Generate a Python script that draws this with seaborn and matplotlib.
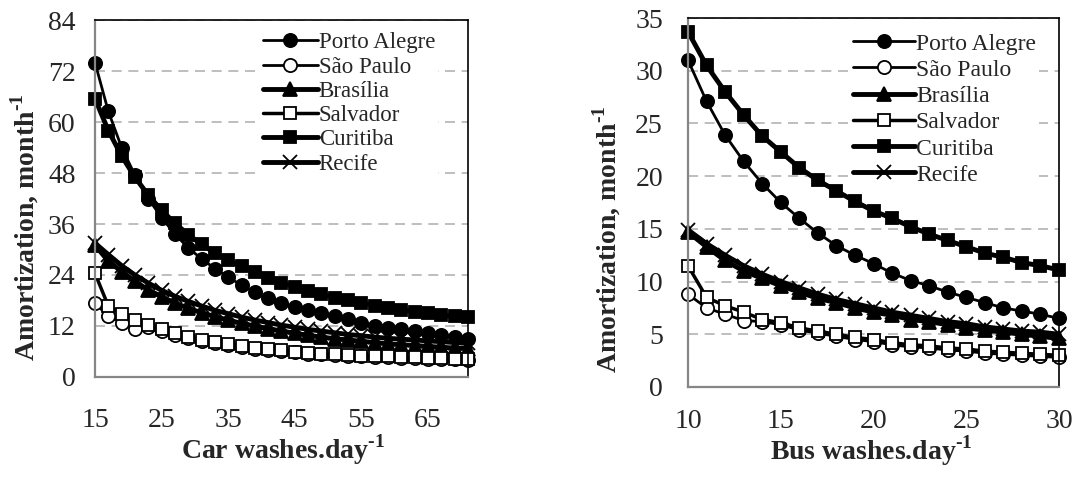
import pandas as pd
import matplotlib
matplotlib.use('Agg')
import matplotlib.pyplot as plt
import seaborn as sns

sns.set_style('white')
plt.rcParams['font.family'] = ['Liberation Serif', 'DejaVu Serif']
plt.rcParams['mathtext.fontset'] = 'custom'
plt.rcParams['mathtext.rm'] = 'Liberation Serif'
plt.rcParams['mathtext.bf'] = 'Liberation Serif:bold'

cities = ['Porto Alegre', 'São Paulo', 'Brasília', 'Salvador', 'Curitiba', 'Recife']

# Car washes (left panel)
car_x = [15, 17, 19, 21, 23, 25, 27, 29, 31, 33, 35, 37, 39, 41, 43,
         45, 47, 49, 51, 53, 55, 57, 59, 61, 63, 65, 67, 69, 71]
car_porto = [74.0, 62.5, 54.0, 47.5, 42.0, 37.5, 33.6, 30.4, 27.8, 25.5, 23.5, 21.6, 20.0, 18.5, 17.3,
             16.4, 15.7, 15.0, 14.3, 13.6, 12.8, 12.1, 11.6, 11.2, 10.8, 10.3, 9.8, 9.4, 9.0]
car_sao = [17.4, 14.3, 12.8, 11.3, 11.7, 10.8, 9.9, 9.2, 8.5, 8.0, 7.5, 7.1, 6.7, 6.4, 6.1,
           5.8, 5.5, 5.3, 5.15, 5.0, 4.85, 4.75, 4.65, 4.55, 4.45, 4.35, 4.25, 4.15, 4.05]
car_brasilia = [31.0, 27.3, 24.8, 22.5, 20.5, 18.9, 17.4, 16.2, 15.1, 14.2, 13.4, 12.6, 12.0, 11.4, 10.8,
                10.3, 9.8, 9.4, 9.0, 8.7, 8.4, 8.1, 7.8, 7.6, 7.4, 7.2, 7.0, 6.8, 6.7]
car_salvador = [24.4, 16.7, 14.9, 13.3, 12.2, 11.2, 10.3, 9.5, 8.8, 8.2, 7.7, 7.3, 6.9, 6.6, 6.3,
                5.9, 5.7, 5.5, 5.35, 5.2, 5.05, 4.95, 4.85, 4.75, 4.65, 4.55, 4.45, 4.35, 4.25]
car_curitiba = [65.5, 58.0, 52.0, 47.0, 42.8, 39.2, 36.2, 33.5, 31.2, 29.2, 27.5, 26.0, 24.6, 23.3, 22.2,
                21.2, 20.3, 19.5, 18.7, 18.0, 17.4, 16.8, 16.3, 15.8, 15.4, 15.0, 14.6, 14.3, 14.0]
car_recife = [31.5, 28.8, 26.2, 24.0, 22.1, 20.4, 19.0, 17.8, 16.7, 15.7, 14.9, 14.1, 13.4, 12.8, 12.2,
              11.7, 11.2, 10.8, 10.4, 10.0, 9.7, 9.4, 9.1, 8.9, 8.7, 8.5, 8.3, 8.1, 7.9]
car_ticks = [15, 25, 35, 45, 55, 65]

# Bus washes (right panel)
bus_x = [10, 11, 12, 13, 14, 15, 16, 17, 18, 19, 20, 21, 22, 23, 24, 25, 26, 27, 28, 29, 30]
bus_porto = [31.0, 27.1, 23.9, 21.4, 19.3, 17.5, 16.0, 14.6, 13.4, 12.5, 11.7,
             10.8, 10.1, 9.6, 9.0, 8.5, 8.0, 7.5, 7.2, 6.9, 6.5]
bus_sao = [8.8, 7.5, 6.9, 6.3, 6.2, 5.9, 5.4, 5.1, 4.8, 4.5, 4.3,
           4.0, 3.8, 3.7, 3.5, 3.4, 3.2, 3.1, 3.0, 2.9, 2.8]
bus_brasilia = [14.7, 13.3, 12.0, 11.0, 10.3, 9.6, 9.0, 8.4, 8.0, 7.5, 7.1,
                6.8, 6.4, 6.2, 5.9, 5.6, 5.4, 5.2, 5.0, 4.8, 4.6]
bus_salvador = [11.5, 8.5, 7.7, 7.1, 6.4, 6.1, 5.6, 5.3, 5.0, 4.7, 4.5,
                4.2, 4.0, 3.9, 3.7, 3.6, 3.4, 3.3, 3.2, 3.1, 3.0]
bus_curitiba = [33.7, 30.5, 28.0, 25.8, 23.8, 22.3, 20.8, 19.6, 18.6, 17.6, 16.7,
                16.0, 15.2, 14.5, 13.9, 13.3, 12.7, 12.3, 11.8, 11.5, 11.1]
bus_recife = [14.9, 13.6, 12.5, 11.5, 10.7, 10.0, 9.4, 8.8, 8.3, 7.9, 7.5,
              7.1, 6.8, 6.5, 6.2, 6.0, 5.7, 5.5, 5.3, 5.2, 5.0]
bus_ticks = [10, 15, 20, 25, 30]

car = pd.DataFrame({'x': car_x, 'Porto Alegre': car_porto, 'São Paulo': car_sao,
                    'Brasília': car_brasilia, 'Salvador': car_salvador,
                    'Curitiba': car_curitiba, 'Recife': car_recife})
bus = pd.DataFrame({'x': bus_x, 'Porto Alegre': bus_porto, 'São Paulo': bus_sao,
                    'Brasília': bus_brasilia, 'Salvador': bus_salvador,
                    'Curitiba': bus_curitiba, 'Recife': bus_recife})

# marker, face colour, line width, marker size
estilos = {
    'Porto Alegre': ('o', 'black', 2.0, 9.5),
    'São Paulo': ('o', 'white', 2.0, 9.5),
    'Brasília': ('^', 'black', 3.5, 9.5),
    'Salvador': ('s', 'white', 2.5, 9.0),
    'Curitiba': ('s', 'black', 3.5, 9.0),
    'Recife': ('x', 'black', 3.5, 10.0),
}

sup = '$^{\\mathbf{\u2010 1}}$'

fig = plt.figure(figsize=(10.77, 4.8), dpi=100)
ax1 = fig.add_axes([0.0882, 0.2146, 0.3463, 0.7437])
ax2 = fig.add_axes([0.6388, 0.1938, 0.3445, 0.7687])

gris = '#868686'


def dibujar(ax, df, xlabel, ylim, ystep, xlim, xticks, xminor, cfg):
    for city in cities:
        m, fc, lw, ms = estilos[city]
        sns.lineplot(ax=ax, x='x', y=city, data=df, color='black', marker=m,
                     markerfacecolor=fc, markeredgecolor='black', markeredgewidth=1.3,
                     linewidth=lw, markersize=ms, label=city, clip_on=False)
    ax.set_xticks(xticks)
    if xminor:
        ax.set_xticks(xminor, minor=True)
    ax.set_yticks(list(range(ylim[0], ylim[1] + 1, ystep)))
    ax.set_xlim(*xlim)
    ax.set_ylim(*ylim)
    ax.grid(axis='y', color='#b3b3b3', linestyle=(0, (6, 4)), linewidth=1.2)
    ax.set_axisbelow(True)
    for s in ['left', 'bottom']:
        ax.spines[s].set_color(gris)
        ax.spines[s].set_linewidth(1.6)
    for s in ['top', 'right']:
        ax.spines[s].set_color('black')
        ax.spines[s].set_linewidth(1.2)
    ax.tick_params(axis='both', which='both', direction='in', color=gris, width=1.2,
                   labelsize=20)
    ax.tick_params(axis='x', which='both', length=5, pad=cfg['xpad'])
    ax.tick_params(axis='y', which='both', length=5, pad=cfg['ypad'])
    ax.set_xlabel(xlabel + sup, fontsize=20, fontweight='bold', va='center')
    ax.set_ylabel('Amortization, month' + sup, fontsize=20, fontweight='bold', va='center')
    ax.xaxis.set_label_coords(*cfg['xlab'])
    ax.yaxis.set_label_coords(*cfg['ylab'])
    leg = ax.legend(loc='upper left', bbox_to_anchor=cfg['leg'], frameon=True,
                    fontsize=cfg['legfs'], handlelength=cfg['hl'], handletextpad=0.05,
                    labelspacing=cfg['ls'], borderpad=0.15, borderaxespad=0.0,
                    numpoints=1)
    leg.get_frame().set_facecolor('white')
    leg.get_frame().set_edgecolor('none')
    leg.get_frame().set_alpha(1.0)


dibujar(ax1, car, 'Car washes.day', (0, 84), 12, (15, 71), car_ticks, car_x,
        dict(xpad=22, ypad=14, xlab=(0.504, -0.204), ylab=(-0.188, 0.42),
             leg=(0.44, 0.975), legfs=16.5, hl=2.4, ls=0.14))
dibujar(ax2, bus, 'Bus washes.day', (0, 35), 5, (10, 30), bus_ticks, None,
        dict(xpad=16, ypad=18, xlab=(0.493, -0.172), ylab=(-0.218, 0.40),
             leg=(0.436, 0.969), legfs=17, hl=2.6, ls=0.2))

fig.savefig('out.png', dpi=100)
